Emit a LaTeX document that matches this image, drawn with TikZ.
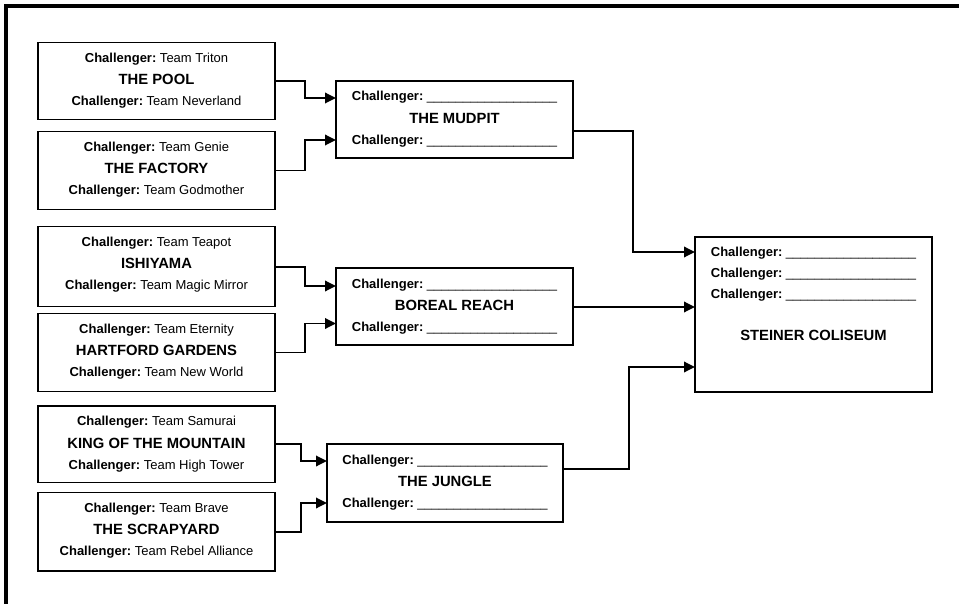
\documentclass[tikz,border=0pt]{standalone}
\usepackage{fontspec}
\setmainfont{Liberation Sans}
\usetikzlibrary{arrows.meta,calc}

\newcommand\chlab{\textbf{Challenger:}\ }
\newcommand\blanks{\_\_\_\_\_\_\_\_\_\_\_\_\_\_\_\_\_\_}
\newcommand\threelines[4]{%
  \node[chal] (#1-a) at ($(#1.north)+(0,20)$) {#2};
  \node[ttl]  (#1-t) at ($(#1.north)+(0,42.3)$) {#3};
  \node[chal] (#1-b) at ($(#1.north)+(0,63.3)$) {#4};}

\begin{document}
\begin{tikzpicture}[x=1pt,y=-1pt,
  box/.style={draw, line width=1.3pt, minimum width=237pt, inner sep=0pt, outer sep=0pt},
  chal/.style={anchor=base, inner sep=0pt, font=\fontsize{13}{15}\selectfont},
  ttl/.style={anchor=base, inner sep=0pt, font=\fontsize{14.8}{17}\selectfont\bfseries},
  conn/.style={line width=1.8pt},
  arr/.style={conn, -{Triangle[length=11pt,width=10.5pt]}}]

\useasboundingbox (0,0) rectangle (959,604);

% page frame (top and left edges)
\draw[line width=4.6pt, line join=miter] (5.8,604) -- (5.8,6.2) -- (959,6.2);

% first-round boxes
\node[box, minimum height=76.7pt] (pool)  at (156.5,81)    {};
\node[box, minimum height=77.6pt] (fact)  at (156.5,170.5) {};
\node[box, minimum height=80pt]   (ishi)  at (156.5,266.7) {};
\node[box, minimum height=78.4pt] (hart)  at (156.5,352.5) {};
\node[box, minimum height=76.7pt] (king)  at (156.5,444.3) {};
\node[box, minimum height=78.3pt] (scrap) at (156.5,531.8) {};

% second-round boxes
\node[box, minimum height=77pt] (mud) at (454.5,119.5) {};
\node[box, minimum height=77pt] (bor) at (454.5,306.5) {};
\node[box, minimum width=236pt, minimum height=78pt] (jun) at (445,483) {};

% final box
\node[box, minimum height=155pt] (stein) at (813.5,314.5) {};

% texts
\threelines{pool}{\chlab Team Triton}{THE POOL}{\chlab Team Neverland}
\threelines{fact}{\chlab Team Genie}{THE FACTORY}{\chlab Team Godmother}
\threelines{ishi}{\chlab Team Teapot}{ISHIYAMA}{\chlab Team Magic Mirror}
\threelines{hart}{\chlab Team Eternity}{HARTFORD GARDENS}{\chlab Team New World}
\threelines{king}{\chlab Team Samurai}{KING OF THE MOUNTAIN}{\chlab Team High Tower}
\threelines{scrap}{\chlab Team Brave}{THE SCRAPYARD}{\chlab Team Rebel Alliance}

\threelines{mud}{\chlab\blanks}{THE MUDPIT}{\chlab\blanks}
\threelines{bor}{\chlab\blanks}{BOREAL REACH}{\chlab\blanks}
\threelines{jun}{\chlab\blanks}{THE JUNGLE}{\chlab\blanks}

\node[chal] (stein-a) at ($(stein.north)+(0,19.6)$) {\chlab\blanks};
\node[chal] (stein-b) at ($(stein.north)+(0,40.6)$) {\chlab\blanks};
\node[chal] (stein-c) at ($(stein.north)+(0,61.3)$) {\chlab\blanks};
\node[ttl]  (stein-t) at ($(stein.north)+(0,103)$) {STEINER COLISEUM};

% connectors
\draw[arr] (pool.east)  -- ++(30,0) |- ($(mud.west)+(0,-21.5)$);
\draw[arr] (fact.east)  -- ++(30,0) |- ($(mud.west)+(0,20.5)$);
\draw[arr] (ishi.east)  -- ++(30,0) |- ($(bor.west)+(0,-20.5)$);
\draw[arr] (hart.east)  -- ++(30,0) |- ($(bor.west)+(0,17)$);
\draw[arr] (king.east)  -- ++(26,0) |- ($(jun.west)+(0,-22)$);
\draw[arr] (scrap.east) -- ++(26,0) |- ($(jun.west)+(0,20)$);

\draw[arr] ($(mud.east)+(0,11.5)$) -| ($(stein.west)+(-62,-62.5)$) -- ($(stein.west)+(0,-62.5)$);
\draw[arr] ($(bor.east)+(0,0.5)$) -- ($(bor.east -| stein.west)+(0,0.5)$);
\draw[arr] ($(jun.east)+(0,-14)$) -| ($(stein.west)+(-66,52.5)$) -- ($(stein.west)+(0,52.5)$);
\end{tikzpicture}
\end{document}
